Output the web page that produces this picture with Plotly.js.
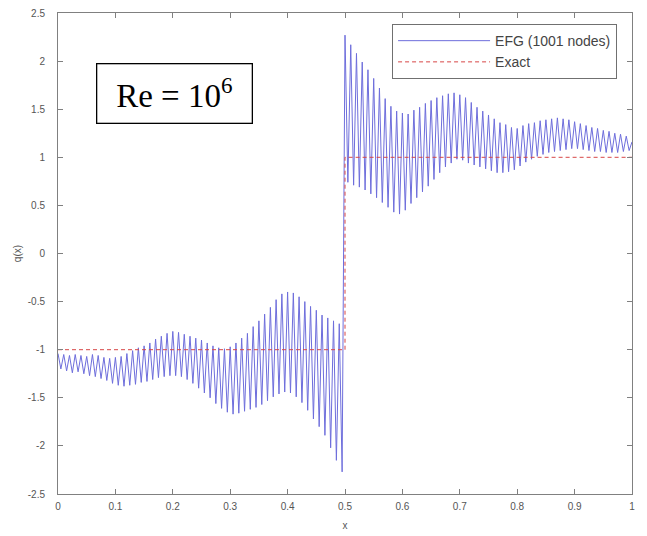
<!DOCTYPE html>
<html>
<head>
<meta charset="utf-8">
<script src="https://cdn.plot.ly/plotly-3.0.1.min.js"></script>
<style>
html,body{margin:0;padding:0;background:#fff;}
#chart{width:647px;height:536px;}
</style>
</head>
<body>
<div id="chart"></div>
<script>
// EFG solution: peak values (left half at x = 0.00..0.49, right half at x = 0.50..0.99)
var leftPeaks = [
  -1.04,-1.05,-1.06,-1.05,-1.06,-1.07,-1.05,-1.06,-1.08,-1.09,
  -1.08,-1.07,-1.04,-1.01,-0.98,-0.96,-0.93,-0.89,-0.86,-0.83,
  -0.81,-0.82,-0.84,-0.86,-0.88,-0.90,-0.93,-0.96,-0.98,-0.99,
  -0.97,-0.93,-0.88,-0.83,-0.76,-0.70,-0.63,-0.56,-0.48,-0.42,
  -0.40,-0.41,-0.45,-0.50,-0.55,-0.59,-0.64,-0.67,-0.70,-0.73
];
// trough values, half a cycle after each peak
var leftTroughs = [
  -1.20,-1.22,-1.24,-1.23,-1.25,-1.27,-1.28,-1.30,-1.32,-1.35,
  -1.37,-1.38,-1.37,-1.36,-1.34,-1.33,-1.31,-1.29,-1.28,-1.27,
  -1.27,-1.28,-1.31,-1.35,-1.40,-1.45,-1.50,-1.56,-1.61,-1.65,
  -1.67,-1.66,-1.64,-1.62,-1.60,-1.57,-1.53,-1.49,-1.46,-1.44,
  -1.45,-1.49,-1.55,-1.63,-1.72,-1.80,-1.89,-2.02,-2.15,-2.27
];
var rightPeaks = [
  2.27,2.17,2.08,1.99,1.91,1.82,1.72,1.61,1.53,1.48,
  1.46,1.45,1.49,1.52,1.56,1.59,1.62,1.64,1.66,1.67,
  1.65,1.62,1.57,1.52,1.48,1.44,1.40,1.36,1.34,1.31,
  1.30,1.33,1.35,1.36,1.38,1.39,1.40,1.41,1.40,1.39,
  1.37,1.35,1.33,1.31,1.30,1.28,1.27,1.25,1.24,1.22
];
var rightTroughs = [
  0.74,0.71,0.69,0.66,0.62,0.58,0.53,0.48,0.43,0.41,
  0.45,0.52,0.58,0.64,0.70,0.77,0.84,0.90,0.94,0.98,
  0.97,0.94,0.92,0.90,0.88,0.86,0.84,0.84,0.85,0.87,
  0.91,0.95,0.98,1.01,1.03,1.05,1.06,1.07,1.08,1.09,
  1.09,1.08,1.07,1.06,1.06,1.05,1.05,1.05,1.06,1.07
];
var endX = 1.0, endValue = 1.16;
var cyclePeriod = 0.01;
var leftStart = 0.0, rightStart = 0.5;

// exact solution
var exactX = [0, 0.5, 0.5, 1];
var exactY = [-1, -1, 1, 1];

var tickX = [0,0.1,0.2,0.3,0.4,0.5,0.6,0.7,0.8,0.9,1];
var tickXText = ['0','0.1','0.2','0.3','0.4','0.5','0.6','0.7','0.8','0.9','1'];
var tickY = [-2.5,-2,-1.5,-1,-0.5,0,0.5,1,1.5,2,2.5];
var tickYText = ['-2.5','-2','-1.5','-1','-0.5','0','0.5','1','1.5','2','2.5'];

var efgX = [], efgY = [];
function addHalf(start, peaks, troughs){
  for (var k = 0; k < peaks.length; k++){
    efgX.push(+(start + k*cyclePeriod).toFixed(4)); efgY.push(peaks[k]);
    efgX.push(+(start + k*cyclePeriod + cyclePeriod/2).toFixed(4)); efgY.push(troughs[k]);
  }
}
addHalf(leftStart, leftPeaks, leftTroughs);
addHalf(rightStart, rightPeaks, rightTroughs);
efgX.push(endX); efgY.push(endValue);

var traces = [
  {x: efgX, y: efgY, mode: 'lines', name: 'EFG (1001 nodes)',
   line: {color: 'rgb(110,110,220)', width: 1}},
  {x: exactX, y: exactY, mode: 'lines', name: 'Exact',
   line: {color: 'rgb(215,70,70)', width: 1, dash: '4px,3px'}}
];

var axisCommon = {
  showgrid: false, zeroline: false, showline: true, linecolor: '#808080', linewidth: 1,
  mirror: 'ticks', ticks: 'inside', ticklen: 5, tickcolor: '#808080',
  tickfont: {family: 'Arial, Liberation Sans, sans-serif', size: 10, color: '#555'}
};

var layout = {
  width: 647, height: 536,
  margin: {l: 58, r: 15, t: 13, b: 42},
  paper_bgcolor: '#fff', plot_bgcolor: '#fff',
  showlegend: true,
  legend: {x: 0.974, y: 0.977, xanchor: 'right', yanchor: 'top',
    bgcolor: '#fff', bordercolor: '#707070', borderwidth: 1,
    font: {family: 'Arial, Liberation Sans, sans-serif', size: 14, color: '#444'},
    tracegroupgap: 0, itemwidth: 92},
  xaxis: Object.assign({}, axisCommon, {
    range: [0, 1], tickmode: 'array', tickvals: tickX, ticktext: tickXText,
    ticklabelstandoff: 3,
    title: {text: 'x', font: {family: 'Arial, Liberation Sans, sans-serif', size: 10, color: '#555'}, standoff: 10}
  }),
  yaxis: Object.assign({}, axisCommon, {
    range: [-2.5, 2.5], tickmode: 'array', tickvals: tickY, ticktext: tickYText,
    ticklabelstandoff: 10,
    title: {text: 'q(x)', font: {family: 'Arial, Liberation Sans, sans-serif', size: 10, color: '#555'}, standoff: 4}
  }),
  annotations: [{
    xref: 'paper', yref: 'paper', x: 0.203, y: 0.833, xanchor: 'center', yanchor: 'middle',
    text: 'Re = 10<sup>6</sup>', showarrow: false,
    font: {family: 'Liberation Serif, Times New Roman, serif', size: 33, color: '#000'},
    bordercolor: '#000', borderwidth: 1.3, bgcolor: '#fff',
    width: 152, height: 56, align: 'center'
  }]
};

Plotly.newPlot('chart', traces, layout, {displayModeBar: false, staticPlot: true});
</script>
</body>
</html>
